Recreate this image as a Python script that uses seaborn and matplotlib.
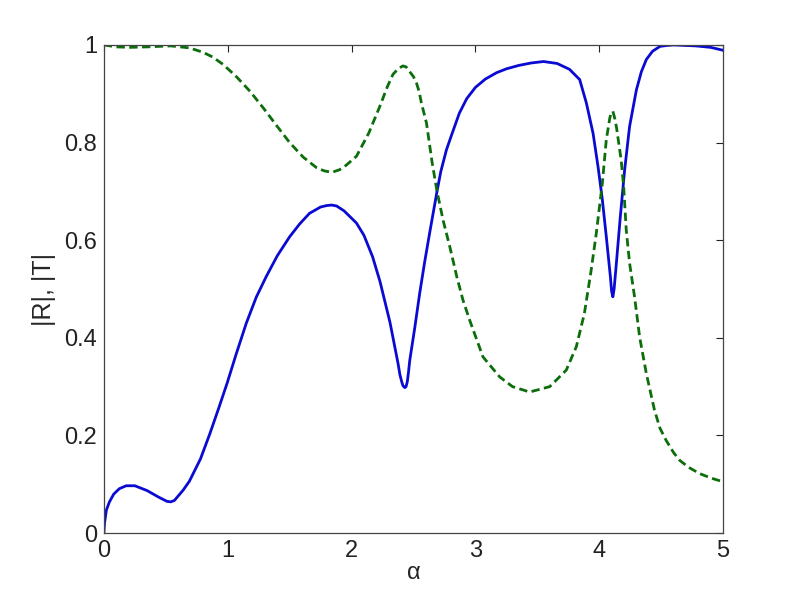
import seaborn as sns
import matplotlib.pyplot as plt
import pandas as pd
import numpy as np

# |R| (solida azul)
alpha_r = [0.0, 0.005, 0.02, 0.045, 0.08, 0.125, 0.18, 0.25, 0.35, 0.44, 0.51, 0.54,
           0.57, 0.64, 0.69, 0.78, 0.855, 0.93, 0.995, 1.07, 1.15, 1.23, 1.31, 1.40,
           1.50, 1.58, 1.66, 1.75, 1.80, 1.84, 1.88, 1.94, 2.04, 2.10, 2.17, 2.23,
           2.31, 2.375, 2.39, 2.405, 2.415, 2.43, 2.44, 2.45, 2.46, 2.47, 2.51, 2.55,
           2.59, 2.63, 2.69, 2.72, 2.766, 2.80, 2.87, 2.93, 3.00, 3.08, 3.17, 3.25,
           3.35, 3.45, 3.55, 3.66, 3.76, 3.842, 3.896, 3.95, 3.99, 4.025, 4.057, 4.09,
           4.10, 4.11, 4.12, 4.137, 4.17, 4.205, 4.245, 4.30, 4.34, 4.38, 4.43, 4.49,
           4.55, 4.60, 4.78, 4.90, 5.0]
r_vals = [0.0, 0.02, 0.047, 0.064, 0.08, 0.091, 0.097, 0.097, 0.087, 0.074, 0.065, 0.064,
          0.067, 0.088, 0.106, 0.152, 0.203, 0.258, 0.307, 0.368, 0.43, 0.483, 0.525, 0.568,
          0.607, 0.633, 0.655, 0.668, 0.671, 0.672, 0.670, 0.660, 0.635, 0.61, 0.566, 0.515,
          0.432, 0.348, 0.325, 0.31, 0.302, 0.298, 0.30, 0.31, 0.33, 0.354, 0.42, 0.491,
          0.555, 0.614, 0.70, 0.74, 0.785, 0.81, 0.86, 0.89, 0.913, 0.93, 0.943, 0.951,
          0.958, 0.963, 0.966, 0.962, 0.950, 0.929, 0.881, 0.819, 0.751, 0.683, 0.607, 0.525,
          0.495, 0.484, 0.50, 0.549, 0.648, 0.744, 0.833, 0.908, 0.945, 0.97, 0.987, 0.997,
          0.999, 1.0, 0.998, 0.995, 0.989]

# |T| (discontinua verde)
alpha_t = [0.0, 0.1, 0.21, 0.35, 0.54, 0.69, 0.80, 0.88, 0.963, 1.07, 1.18, 1.29,
           1.394, 1.50, 1.61, 1.72, 1.78, 1.84, 1.90, 1.94, 2.04, 2.14, 2.228, 2.29,
           2.335, 2.38, 2.415, 2.44, 2.47, 2.50, 2.524, 2.545, 2.565, 2.605, 2.65, 2.69,
           2.74, 2.793, 2.85, 2.90, 2.954, 3.061, 3.196, 3.30, 3.438, 3.60, 3.734, 3.815,
           3.88, 3.935, 3.976, 4.025, 4.057, 4.085, 4.095, 4.11, 4.125, 4.14, 4.177, 4.197,
           4.218, 4.245, 4.285, 4.326, 4.38, 4.446, 4.49, 4.54, 4.60, 4.65, 4.72, 4.81,
           4.90, 5.0]
t_vals = [1.0, 0.996, 0.995, 0.996, 0.998, 0.994, 0.985, 0.975, 0.96, 0.935, 0.905, 0.87,
          0.835, 0.80, 0.77, 0.748, 0.742, 0.739, 0.744, 0.75, 0.772, 0.82, 0.874, 0.915,
          0.94, 0.952, 0.957, 0.955, 0.945, 0.935, 0.922, 0.905, 0.88, 0.84, 0.76, 0.70,
          0.64, 0.587, 0.525, 0.477, 0.436, 0.361, 0.32, 0.30, 0.289, 0.30, 0.334, 0.382,
          0.45, 0.539, 0.614, 0.717, 0.806, 0.85, 0.86, 0.864, 0.85, 0.83, 0.764, 0.71,
          0.621, 0.553, 0.484, 0.402, 0.327, 0.252, 0.215, 0.19, 0.165, 0.149, 0.135, 0.122,
          0.113, 0.105]

x_ticks = [0, 1, 2, 3, 4, 5]
y_ticks = [0, 0.2, 0.4, 0.6, 0.8, 1]
y_ticklabels = ["0", "0.2", "0.4", "0.6", "0.8", "1"]

sns.set_style("white")
plt.rcParams['font.family'] = ['Liberation Sans', 'DejaVu Sans']

fig = plt.figure(figsize=(7.99, 5.99), dpi=100)
ax = fig.add_axes([0.13, 0.11, 0.775, 0.815])

df_r = pd.DataFrame({"alpha": alpha_r, "val": r_vals})
df_t = pd.DataFrame({"alpha": alpha_t, "val": t_vals})

sns.lineplot(data=df_r, x="alpha", y="val", ax=ax, color="#0a0ad2",
             linewidth=2.0, estimator=None)
sns.lineplot(data=df_t, x="alpha", y="val", ax=ax, color="#0b6e0b",
             linewidth=2.0, estimator=None, linestyle=(0, (3, 1.6)))

ax.set_xlim(0, 5)
ax.set_ylim(0, 1)
ax.set_xticks(x_ticks)
ax.set_xticklabels([str(t) for t in x_ticks])
ax.set_yticks(y_ticks)
ax.set_yticklabels(y_ticklabels)
ax.tick_params(direction="in", length=5, width=0.8, top=True, right=True,
               labelsize=17, colors="#222222", pad=5)
for s in ax.spines.values():
    s.set_color("#444444")
    s.set_linewidth(0.9)

ax.set_xlabel("α", fontsize=17, labelpad=0)
ax.set_ylabel("|R|, |T|", fontsize=18, labelpad=6)

fig.savefig("out.png", dpi=100)
